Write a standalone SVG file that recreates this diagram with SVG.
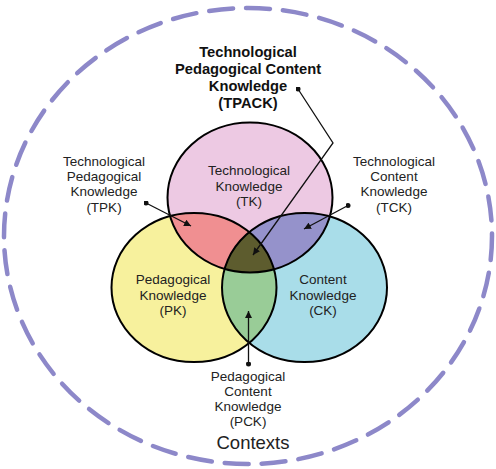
<svg xmlns="http://www.w3.org/2000/svg" width="496" height="469" viewBox="0 0 496 469">
<style>
.lbl{font-family:"Liberation Sans",Arial,sans-serif;font-size:13.5px;fill:#222;text-anchor:middle}
.ttl{font-family:"Liberation Sans",Arial,sans-serif;font-size:14.7px;font-weight:bold;fill:#111;text-anchor:middle}
.ctx{font-family:"Liberation Sans",Arial,sans-serif;font-size:18.5px;fill:#222;text-anchor:middle}
.edge{fill:none;stroke:#000;stroke-width:2}
.conn{fill:none;stroke:#111;stroke-width:1.3}
</style>
<defs>
<ellipse id="eTK" cx="250" cy="197.5" rx="82.5" ry="75"/>
<ellipse id="ePK" cx="194" cy="287.5" rx="82.5" ry="74.5"/>
<ellipse id="eCK" cx="304.5" cy="287.5" rx="82.5" ry="74.5"/>
<clipPath id="cTK"><use href="#eTK"/></clipPath>
<clipPath id="cPK"><use href="#ePK"/></clipPath>
<clipPath id="cCK"><use href="#eCK"/></clipPath>
<marker id="arr" viewBox="0 0 10 10" refX="10" refY="5" markerWidth="7" markerHeight="7" markerUnits="userSpaceOnUse" orient="auto">
<path d="M0,0 L10,5 L0,10 Z" fill="#111"/>
</marker>
<marker id="dot" viewBox="0 0 10 10" refX="5" refY="5" markerWidth="5" markerHeight="5" markerUnits="userSpaceOnUse">
<circle cx="5" cy="5" r="5" fill="#111"/>
</marker>
</defs>
<rect width="496" height="469" fill="#fff"/>
<g id="contexts">
<ellipse cx="248" cy="236" rx="244" ry="228" fill="none" stroke="#8d88c9" stroke-width="4.5" stroke-dasharray="24 13" stroke-linecap="round"/>
<text class="ctx" x="253" y="449">Contexts</text>
</g>
<g id="TK"><use href="#eTK" fill="#edc9e3"/></g>
<g id="PK"><use href="#ePK" fill="#f7f19d"/></g>
<g id="CK"><use href="#eCK" fill="#a9dde9"/></g>
<g id="TPK"><g clip-path="url(#cTK)"><use href="#ePK" fill="#f08f91"/></g></g>
<g id="TCK"><g clip-path="url(#cTK)"><use href="#eCK" fill="#9592cb"/></g></g>
<g id="PCK"><g clip-path="url(#cPK)"><use href="#eCK" fill="#99cc97"/></g></g>
<g id="TPACK"><g clip-path="url(#cTK)"><g clip-path="url(#cPK)"><use href="#eCK" fill="#5d5c2e"/></g></g></g>
<g id="outlines">
<use href="#eTK" class="edge"/>
<use href="#ePK" class="edge"/>
<use href="#eCK" class="edge"/>
</g>
<g id="TK-label">
<text class="lbl" x="249" y="175.3">Technological</text>
<text class="lbl" x="249" y="190.5">Knowledge</text>
<text class="lbl" x="249" y="205.7">(TK)</text>
</g>
<g id="PK-label">
<text class="lbl" x="173" y="284.3">Pedagogical</text>
<text class="lbl" x="173" y="299.5">Knowledge</text>
<text class="lbl" x="173" y="314.7">(PK)</text>
</g>
<g id="CK-label">
<text class="lbl" x="323" y="284.3">Content</text>
<text class="lbl" x="323" y="299.5">Knowledge</text>
<text class="lbl" x="323" y="314.7">(CK)</text>
</g>
<g id="TPACK-label">
<text class="ttl" x="248" y="57">Technological</text>
<text class="ttl" x="248" y="74">Pedagogical Content</text>
<text class="ttl" x="248" y="91">Knowledge</text>
<text class="ttl" x="248" y="108">(TPACK)</text>
</g>
<g id="TPK-label">
<text class="lbl" x="104" y="166">Technological</text>
<text class="lbl" x="104" y="181.2">Pedagogical</text>
<text class="lbl" x="104" y="196.4">Knowledge</text>
<text class="lbl" x="104" y="211.6">(TPK)</text>
</g>
<g id="TCK-label">
<text class="lbl" x="394" y="166">Technological</text>
<text class="lbl" x="394" y="181.2">Content</text>
<text class="lbl" x="394" y="196.4">Knowledge</text>
<text class="lbl" x="394" y="211.6">(TCK)</text>
</g>
<g id="PCK-label">
<text class="lbl" x="248" y="380.5">Pedagogical</text>
<text class="lbl" x="248" y="395.7">Content</text>
<text class="lbl" x="248" y="410.9">Knowledge</text>
<text class="lbl" x="248" y="426.1">(PCK)</text>
</g>
<g id="connectors">
<polyline class="conn" points="298,89 333,143 253,255" marker-start="url(#dot)" marker-end="url(#arr)"/>
<line class="conn" x1="146" y1="203" x2="191" y2="226" marker-start="url(#dot)" marker-end="url(#arr)"/>
<line class="conn" x1="348" y1="205.5" x2="304" y2="229" marker-start="url(#dot)" marker-end="url(#arr)"/>
<line class="conn" x1="248.5" y1="364" x2="248.5" y2="311" marker-start="url(#dot)" marker-end="url(#arr)"/>
</g>
</svg>
